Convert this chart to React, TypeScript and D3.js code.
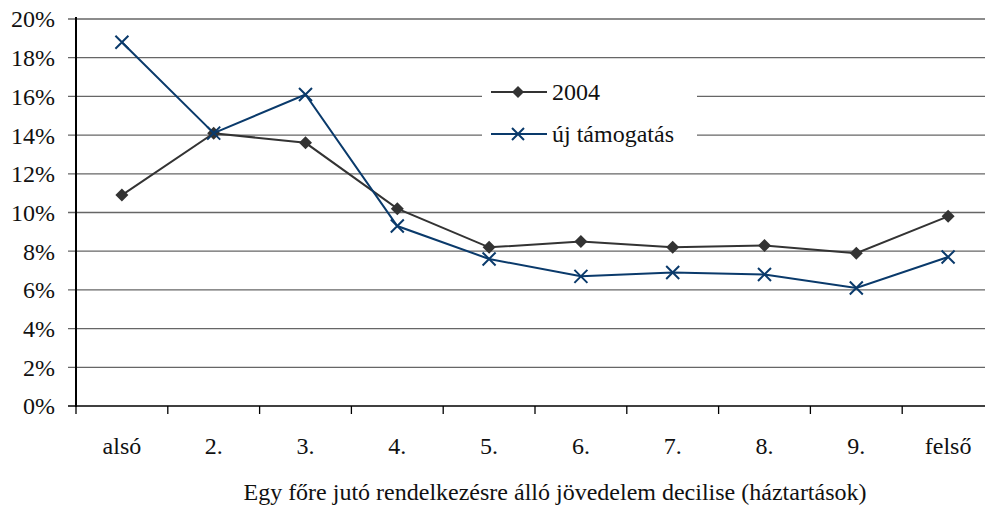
import React from "react";
import * as d3 from "d3";

const categories = ["alsó", "2.", "3.", "4.", "5.", "6.", "7.", "8.", "9.", "felső"];
const series2004 = [10.9, 14.1, 13.6, 10.2, 8.2, 8.5, 8.2, 8.3, 7.9, 9.8];
const seriesUj = [18.8, 14.1, 16.1, 9.3, 7.6, 6.7, 6.9, 6.8, 6.1, 7.7];
const yTicks = [0, 2, 4, 6, 8, 10, 12, 14, 16, 18, 20];
const seriesNames = ["2004", "új támogatás"];
const xTitle = "Egy főre jutó rendelkezésre álló jövedelem decilise (háztartások)";

const W = 985;
const H = 507;
const FONT = "'Liberation Serif', 'DejaVu Serif', 'Times New Roman', serif";
const txt = { fontFamily: FONT } as React.CSSProperties;

export default function App() {
  const x = d3.scaleBand<string>().domain(categories).range([76, 994]);
  const y = d3.scaleLinear().domain([0, 20]).range([406, 19]);
  const cx = (c: string) => (x(c) as number) + x.bandwidth() / 2;
  const line = d3
    .line<number>()
    .x((_, i) => cx(categories[i]))
    .y((d) => y(d));

  const diamond = (px: number, py: number, r = 6.5) =>
    `M${px},${py - r}L${px + r},${py}L${px},${py + r}L${px - r},${py}Z`;
  const cross = (px: number, py: number, r = 6.5) =>
    `M${px - r},${py - r}L${px + r},${py + r}M${px - r},${py + r}L${px + r},${py - r}`;

  const c2004 = "#333333";
  const cUj = "#0a3a6b";

  const legendX = 491;
  const legendY = [92, 134];

  return (
    <svg
      width={W}
      height={H}
      style={{ position: "absolute", left: 0, top: 0, background: "#fff" }}
    >
      <rect x={0} y={0} width={W} height={H} fill="#fff" />
      {yTicks.map((t) => (
        <line
          key={t}
          x1={68}
          x2={W}
          y1={y(t)}
          y2={y(t)}
          stroke={t === 0 ? "#000" : "#666"}
          strokeWidth={t === 0 ? 1.5 : 1.3}
        />
      ))}
      {yTicks.map((t) => (
        <text
          key={"l" + t}
          x={55}
          y={y(t)}
          dy="0.35em"
          textAnchor="end"
          fontSize={24}
          fill="#111"
          style={txt}
        >
          {t}%
        </text>
      ))}
      <line x1={76} x2={76} y1={17} y2={407} stroke="#000" strokeWidth={2} />
      {categories.map((c) => (
        <line
          key={"t" + c}
          x1={x(c) as number}
          x2={x(c) as number}
          y1={406}
          y2={414}
          stroke="#000"
          strokeWidth={1.3}
        />
      ))}
      {categories.map((c) => (
        <text key={"x" + c} x={cx(c)} y={454} textAnchor="middle" fontSize={24} fill="#111" style={txt}>
          {c}
        </text>
      ))}
      <text x={555} y={500} textAnchor="middle" fontSize={24} fill="#111" style={txt}>
        {xTitle}
      </text>

      <rect x={482} y={70} width={215} height={82} fill="#fff" />
      <line x1={legendX} x2={legendX + 56} y1={legendY[0]} y2={legendY[0]} stroke={c2004} strokeWidth={2} />
      <path d={diamond(legendX + 27, legendY[0], 6)} fill={c2004} />
      <text x={552} y={legendY[0]} dy="0.35em" fontSize={24} fill="#111" style={txt}>
        {seriesNames[0]}
      </text>
      <line x1={legendX} x2={legendX + 56} y1={legendY[1]} y2={legendY[1]} stroke={cUj} strokeWidth={2} />
      <path d={cross(legendX + 27, legendY[1], 6)} stroke={cUj} strokeWidth={2} fill="none" />
      <text x={552} y={legendY[1]} dy="0.35em" fontSize={24} fill="#111" style={txt}>
        {seriesNames[1]}
      </text>

      <path d={line(series2004) || ""} fill="none" stroke={c2004} strokeWidth={2} />
      {series2004.map((v, i) => (
        <path key={"d" + i} d={diamond(cx(categories[i]), y(v))} fill={c2004} />
      ))}
      <path d={line(seriesUj) || ""} fill="none" stroke={cUj} strokeWidth={2} />
      {seriesUj.map((v, i) => (
        <path
          key={"c" + i}
          d={cross(cx(categories[i]), y(v))}
          fill="none"
          stroke={cUj}
          strokeWidth={2}
        />
      ))}
    </svg>
  );
}
